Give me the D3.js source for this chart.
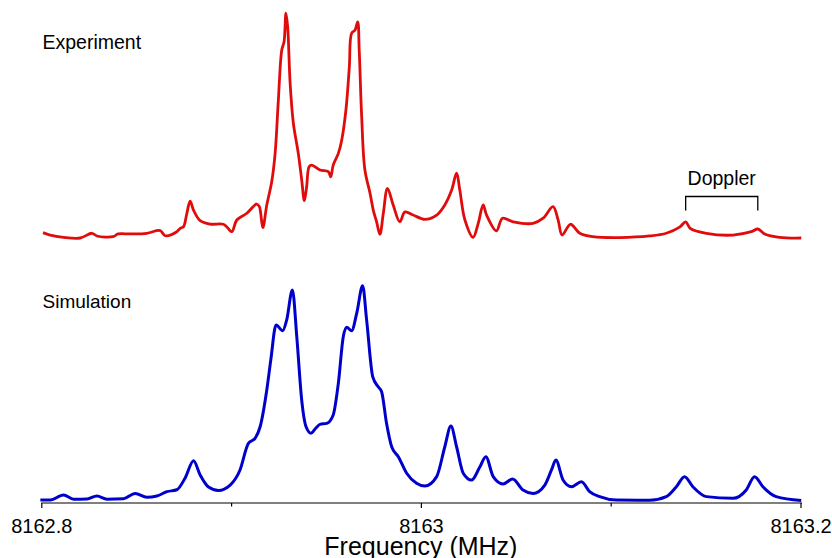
<!DOCTYPE html>
<html>
<head>
<meta charset="utf-8">
<script src="https://cdn.jsdelivr.net/npm/d3@7"></script>
<style>
  body { margin: 0; background: #fff; }
  text { font-family: "Liberation Sans", Arial, sans-serif; fill: #000; }
</style>
</head>
<body>
<svg id="chart" width="832" height="558"></svg>
<script>
// frequency offsets are kHz above 8162.8 MHz, intensities are % of the strongest line
const expFreqKHz = [0.9, 4.7, 11.7, 20.5, 26.7, 29.3, 37.9, 40.5, 46.8, 55.6, 62.6, 65.3, 71.4, 73.2, 74.9, 76.7,
  78.4, 80.2, 83.7, 88.9, 95.9, 97.7, 100.4, 103.0, 108.3, 113.5, 114.9, 116.7, 118.8, 121.4, 123.2, 124.9,
  126.7, 127.9, 128.9, 129.8, 131.1, 132.8, 135.4, 137.2, 138.6, 139.8, 141.1, 142.5, 146.8, 151.2, 152.5,
  153.8, 156.5, 158.3, 160.5, 162.3, 163.5, 165.3, 166.7, 167.5, 168.8, 170.5, 173.2, 174.9, 176.7, 178.4,
  180.2, 182.4, 185.4, 188.9, 191.6, 195.9, 202.1, 208.3, 212.6, 216.2, 218.8, 220.5, 223.2, 227.5, 230.2,
  232.8, 234.6, 239.8, 243.0, 248.6, 259.1, 264.4, 269.6, 272.3, 274.4, 278.8, 283.7, 290.7, 304.7, 320.5,
  329.3, 336.3, 339.5, 341.9, 350.4, 364.4, 374.1, 377.5, 381.1, 388.9, 400.4];
const expSignal = [2.4, 1.3, 0.3, 0, 2.1, 0.9, 0.6, 1.8, 1.8, 2.1, 3.3, 1.0, 2.8, 4.3, 5.0, 11.0,
  16.4, 12.4, 7.7, 6.2, 6.1, 5.0, 2.8, 8.0, 11.0, 15.1, 13.9, 4.6, 14.7, 25.0, 37.6, 61.3,
  83.6, 87.2, 99.9, 93.9, 68.8, 51.0, 37.6, 25.8, 16.6, 22.8, 31.7, 32.4, 30.2, 29.5, 27.2,
  32.4, 37.6, 43.6, 56.9, 76.1, 91.0, 92.4, 96.1, 83.6, 53.9, 30.2, 19.9, 12.4, 7.1, 1.6,
  11.0, 22.1, 14.7, 7.2, 11.6, 10.2, 8.3, 10.2, 14.7, 21.3, 28.8, 21.3, 8.0, 0.3, 6.5,
  14.7, 10.2, 3.2, 8.8, 7.2, 6.5, 8.8, 13.9, 8.0, 1.3, 6.1, 2.1, 0.6, 0.2, 0.9,
  2.1, 4.8, 7.2, 4.3, 2.1, 1.3, 2.8, 4.0, 1.8, 0.3, 0];

const simFreqKHz = [-0.5, 4.7, 11.7, 17.0, 24.1, 29.3, 34.6, 43.3, 49.5, 55.6, 60.9, 66.2, 71.4, 75.8, 80.2,
  83.7, 88.1, 93.3, 99.5, 104.7, 109.1, 112.6, 115.3, 118.8, 120.9, 123.7, 127.2, 129.3, 132.3, 134.6,
  137.2, 139.5, 142.1, 144.7, 146.8, 150.4, 153.8, 156.5, 159.1, 160.9, 163.5, 166.2, 169.3, 171.4, 174.6,
  177.5, 179.3, 181.9, 184.6, 188.1, 192.5, 197.7, 202.1, 208.3, 212.6, 215.8, 218.8, 222.3, 226.7, 231.1,
  234.2, 238.1, 243.3, 248.3, 253.8, 259.1, 265.3, 268.8, 271.1, 274.9, 279.3, 284.6, 288.9, 294.2, 303.0,
  320.5, 329.3, 334.6, 338.9, 343.3, 350.4, 364.4, 371.4, 375.8, 380.2, 387.2, 400.4];
const simSignal = [0.2, 0.2, 2.6, 0.6, 0.7, 2.1, 0.6, 0.8, 3.3, 1.5, 2.1, 4.1, 5.0, 10.5, 18.5,
  11.9, 6.3, 4.7, 7.2, 14.2, 26.6, 28.9, 34.3, 51.4, 65.3, 81.6, 79.0, 84.0, 97.9, 76.2,
  46.7, 34.3, 31.3, 33.7, 35.4, 35.9, 39.8, 54.5, 76.2, 80.6, 79.0, 87.1, 99.9, 84.0, 57.6,
  52.9, 50.6, 35.9, 25.0, 20.4, 12.7, 8.0, 6.7, 11.1, 25.0, 34.7, 25.0, 12.7, 9.5, 15.7,
  20.4, 11.1, 7.7, 10.0, 4.9, 3.3, 7.2, 14.2, 18.8, 9.5, 6.4, 8.7, 4.1, 1.8, 0.2,
  0.1, 1.8, 6.4, 11.1, 6.4, 1.8, 1.0, 4.9, 11.1, 6.4, 1.8, 0];

const dopplerPeaksKHz = [339.5, 377.5];

const tickValues = [8162.8, 8162.9, 8163, 8163.1, 8163.2];
const tickLabels = ["8162.8", "", "8163", "", "8163.2"];

const baseMHz = 8162.8;
const toMHz = k => baseMHz + k / 1000;

const svg = d3.select('#chart');

const x = d3.scaleLinear().domain([8162.8, 8163.2]).range([41.3, 800.5]);
const yExp = d3.scaleLinear().domain([0, 100]).range([238, 13]);
const ySim = d3.scaleLinear().domain([0, 100]).range([500.5, 285.5]);

const expData = expFreqKHz.map((k, i) => ({f: toMHz(k), v: expSignal[i]}));
const simData = simFreqKHz.map((k, i) => ({f: toMHz(k), v: simSignal[i]}));

const expLine = d3.line().x(d => x(d.f)).y(d => yExp(d.v)).curve(d3.curveCatmullRom.alpha(0.5));
const simLine = d3.line().x(d => x(d.f)).y(d => ySim(d.v)).curve(d3.curveMonotoneX);

svg.append('path')
  .datum(expData)
  .attr('d', expLine)
  .attr('fill', 'none')
  .attr('stroke', '#e00c0c')
  .attr('stroke-width', 2.8)
  .attr('stroke-linejoin', 'round');

svg.append('path')
  .datum(simData)
  .attr('d', simLine)
  .attr('fill', 'none')
  .attr('stroke', '#0000cc')
  .attr('stroke-width', 3)
  .attr('stroke-linejoin', 'round');

// axis
const axis = d3.axisBottom(x)
  .tickValues(tickValues)
  .tickFormat((d, i) => tickLabels[i])
  .tickSizeInner(5)
  .tickSizeOuter(0)
  .tickPadding(11);

const axisG = svg.append('g')
  .attr('transform', 'translate(0,503)')
  .call(axis);

axisG.select('.domain').attr('stroke', '#000').attr('stroke-width', 1.2)
  .attr('d', `M${x.range()[0]},0H802`);
axisG.selectAll('.tick line').attr('stroke', '#000').attr('stroke-width', 1.2)
  .attr('y2', (d, i) => tickLabels[i] ? 5 : 3.5);
axisG.selectAll('.tick text')
  .attr('font-size', 20)
  .attr('font-family', '"Liberation Sans", Arial, sans-serif')
  .attr('fill', '#000');

svg.append('text')
  .attr('x', x(8163))
  .attr('y', 555)
  .attr('text-anchor', 'middle')
  .attr('font-size', 25)
  .text('Frequency (MHz)');

// panel labels
svg.append('text').attr('x', 42.5).attr('y', 48.5).attr('font-size', 19.5).text('Experiment');
svg.append('text').attr('x', 42.5).attr('y', 308).attr('font-size', 19).text('Simulation');

// Doppler pair bracket
const dx = dopplerPeaksKHz.map(k => x(toMHz(k)));
svg.append('path')
  .attr('d', `M${dx[0]},210.5V196.5H${dx[1]}V210.5`)
  .attr('fill', 'none')
  .attr('stroke', '#000')
  .attr('stroke-width', 1.3);
svg.append('text')
  .attr('x', (dx[0] + dx[1]) / 2)
  .attr('y', 184.5)
  .attr('text-anchor', 'middle')
  .attr('font-size', 19.5)
  .text('Doppler');
</script>
</body>
</html>
